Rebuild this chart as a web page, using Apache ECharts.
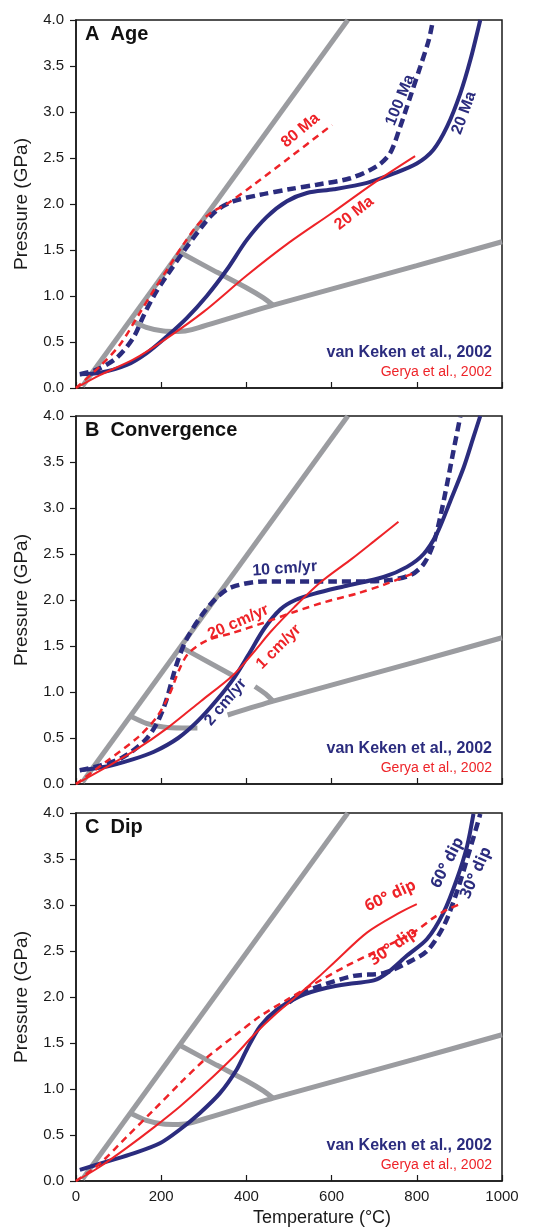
<!DOCTYPE html>
<html>
<head>
<meta charset="utf-8">
<script src="https://cdn.jsdelivr.net/npm/echarts@6/dist/echarts.min.js"></script>
<style>
  html, body { margin: 0; padding: 0; background: #fff; }
  #chart { width: 550px; height: 1228px; }
</style>
</head>
<body>
<div id="chart"></div>
<script>
// all points are [temperature °C, pressure GPa]
const xTicks = [0, 200, 400, 600, 800, 1000];
const yTicks = [0, 0.5, 1, 1.5, 2, 2.5, 3, 3.5, 4];

// gray facies boundaries
const grayUpper = [[15, 0.02], [638, 4.0]];
const grayLower = [[127, 0.74], [165, 0.66], [205, 0.62], [240, 0.615], [272, 0.635], [463, 0.9], [800, 1.33], [1000, 1.59]];
const grayMid = [[246, 1.47], [330, 1.26], [400, 1.09], [440, 0.98], [463, 0.9]];
// panel B has the boundaries cut where the "2 cm/yr" label sits
const grayLowerB1 = [[127, 0.74], [165, 0.66], [205, 0.62], [250, 0.61], [285, 0.61]];
const grayLowerB2 = [[356, 0.75], [463, 0.9], [800, 1.33], [1000, 1.59]];
const grayMidB1 = [[250, 1.48], [368, 1.18]];
const grayMidB2 = [[420, 1.06], [445, 0.98], [463, 0.9]];

// A  Age
const ageVk20 = [[9, 0.15], [56, 0.165], [119, 0.25], [166, 0.38], [213, 0.56], [260, 0.76], [307, 1.0], [354, 1.285], [401, 1.61], [448, 1.86], [495, 2.03], [542, 2.12], [605, 2.16], [683, 2.23], [745, 2.33], [800, 2.44], [839, 2.59], [871, 2.84], [902, 3.2], [926, 3.57], [949, 4.0]];
const ageVk100 = [[9, 0.15], [49, 0.2], [96, 0.33], [135, 0.55], [160, 0.8], [185, 1.02], [210, 1.2], [255, 1.5], [300, 1.78], [330, 1.93], [370, 2.03], [432, 2.1], [500, 2.16], [565, 2.21], [644, 2.28], [706, 2.41], [737, 2.55], [761, 2.84], [785, 3.17], [808, 3.49], [828, 3.78], [836, 3.95]];
const ageGe20 = [[0, 0], [56, 0.14], [135, 0.31], [213, 0.54], [300, 0.83], [400, 1.22], [500, 1.58], [600, 1.9], [700, 2.23], [796, 2.52]];
const ageGe80 = [[0, 0], [56, 0.235], [103, 0.47], [145, 0.78], [185, 1.08], [220, 1.33], [255, 1.58], [285, 1.77], [315, 1.9], [354, 2.0], [420, 2.22], [500, 2.5], [601, 2.86]];

// B  Convergence
const convVk2 = [[9, 0.15], [72, 0.19], [135, 0.27], [183, 0.35], [240, 0.5], [285, 0.68], [330, 0.91], [372, 1.16], [403, 1.39], [442, 1.69], [480, 1.9], [515, 2.0], [560, 2.07], [630, 2.15], [722, 2.25], [777, 2.36], [816, 2.5], [847, 2.72], [879, 3.08], [910, 3.44], [933, 3.77], [949, 4.0]];
const convVk10 = [[9, 0.15], [56, 0.2], [110, 0.29], [161, 0.47], [190, 0.66], [212, 0.91], [234, 1.27], [258, 1.56], [293, 1.82], [329, 2.02], [366, 2.14], [440, 2.2], [605, 2.2], [722, 2.21], [785, 2.27], [816, 2.39], [839, 2.61], [855, 2.9], [871, 3.26], [886, 3.62], [902, 3.99]];
const convGe1 = [[0, 0], [66, 0.17], [140, 0.37], [215, 0.61], [293, 0.9], [368, 1.18], [413, 1.41], [458, 1.66], [512, 1.92], [576, 2.2], [648, 2.45], [700, 2.64], [757, 2.85]];
const convGe20 = [[0, 0], [73, 0.25], [146, 0.51], [190, 0.73], [220, 0.98], [242, 1.24], [264, 1.42], [307, 1.56], [366, 1.64], [439, 1.75], [512, 1.87], [586, 1.98], [659, 2.07], [725, 2.17], [792, 2.29]];

// C  Dip
const dipVk60 = [[9, 0.12], [72, 0.21], [135, 0.3], [197, 0.41], [244, 0.56], [291, 0.74], [338, 0.955], [377, 1.21], [401, 1.43], [432, 1.68], [471, 1.86], [526, 2.01], [589, 2.1], [652, 2.15], [699, 2.18], [730, 2.26], [777, 2.45], [824, 2.63], [863, 2.92], [894, 3.28], [918, 3.64], [933, 3.99]];
const dipVk30 = [[500, 1.94], [526, 2.03], [573, 2.12], [652, 2.23], [722, 2.26], [777, 2.37], [824, 2.5], [863, 2.77], [894, 3.14], [918, 3.5], [941, 3.86], [949, 3.99]];
const dipGe60 = [[0, 0], [56, 0.155], [119, 0.36], [182, 0.58], [244, 0.81], [307, 1.07], [370, 1.35], [420, 1.6], [470, 1.82], [526, 2.04], [570, 2.22], [605, 2.37], [683, 2.7], [761, 2.92], [800, 3.01]];
const dipGe30 = [[0, 0], [56, 0.19], [119, 0.48], [182, 0.77], [244, 1.06], [307, 1.34], [370, 1.57], [432, 1.79], [495, 1.97], [558, 2.14], [636, 2.34], [714, 2.52], [792, 2.7], [839, 2.86], [871, 2.95], [902, 3.01]];

// curve labels: [T, P, text, angle]
const ageLabelsVk = [[761, 3.13, '100 Ma', 68], [911, 2.99, '20 Ma', 70]];
const ageLabelsGe = [[527, 2.8, '80 Ma', 40], [653, 1.9, '20 Ma', 38]];
const convLabelsVk = [[490, 2.34, '10 cm/yr', 4], [351, 0.89, '2 cm/yr', 50]];
const convLabelsGe = [[381, 1.76, '20 cm/yr', 24], [476, 1.49, '1 cm/yr', 45]];
const dipLabelsVk = [[872, 3.46, '60° dip', 63], [939, 3.35, '30° dip', 66]];
const dipLabelsGe = [[738, 3.1, '60° dip', 25], [745, 2.55, '30° dip', 35]];

const panelTitles = ['A  Age', 'B  Convergence', 'C  Dip'];
const citeVk = 'van Keken et al., 2002';
const citeGe = 'Gerya et al., 2002';

const NAVY = '#2b2c7e';
const RED = '#ee2328';
const GRAY = '#9b9ca0';
const ARIAL = '"Liberation Sans", Arial, sans-serif';

const gridTop = [20, 416, 813];
const gridH = 368;
const gridLeft = 76;
const gridRight = 48;
const plotRight = 550 - gridRight;

const chart = echarts.init(document.getElementById('chart'));

function grayLine(data, g) {
  return {
    type: 'line', xAxisIndex: g, yAxisIndex: g, data: data,
    showSymbol: false, smooth: 0.2, z: 2,
    lineStyle: { color: GRAY, width: 5 }
  };
}

function curve(data, g, color, width, dashed) {
  return {
    type: 'line', xAxisIndex: g, yAxisIndex: g, data: data,
    showSymbol: false, smooth: 0.3, z: color === RED ? 4 : 3,
    lineStyle: { color: color, width: width, type: dashed ? dashed : 'solid' }
  };
}

function labels(list, g, color, font, size) {
  return {
    type: 'scatter', xAxisIndex: g, yAxisIndex: g, symbolSize: 0, z: 6,
    itemStyle: { opacity: 1 },
    data: list.map(l => ({
      value: [l[0], l[1]],
      label: {
        show: true, position: 'inside', formatter: l[2], rotate: l[3],
        color: color, fontFamily: font, fontWeight: 'bold', fontSize: size, opacity: 1,
        align: 'center', verticalAlign: 'middle'
      }
    })),
    silent: true
  };
}

const grids = [], xAxes = [], yAxes = [];
for (let g = 0; g < 3; g++) {
  grids.push({
    left: gridLeft, right: gridRight, top: gridTop[g], height: gridH,
    show: true, borderColor: '#1a1a1a', borderWidth: 1.5, backgroundColor: '#fff'
  });
  xAxes.push({
    gridIndex: g, type: 'value', min: xTicks[0], max: xTicks[xTicks.length - 1], interval: 200,
    axisLine: { show: true, onZero: false, lineStyle: { color: '#1a1a1a', width: 1.5 } },
    axisTick: { show: true, inside: true, length: 6, lineStyle: { color: '#1a1a1a', width: 1.2 } },
    axisLabel: { show: g === 2, fontSize: 15, color: '#1a1a1a', fontFamily: ARIAL, margin: 8, formatter: v => String(v) },
    splitLine: { show: false }
  });
  yAxes.push({
    gridIndex: g, type: 'value', min: yTicks[0], max: yTicks[yTicks.length - 1], interval: 0.5,
    axisLine: { show: true, onZero: false, lineStyle: { color: '#1a1a1a', width: 1.5 } },
    axisTick: { show: true, inside: false, length: 6, lineStyle: { color: '#1a1a1a', width: 1.2 } },
    axisLabel: { fontSize: 15, color: '#1a1a1a', fontFamily: ARIAL, margin: 12, formatter: v => v.toFixed(1) },
    splitLine: { show: false },
    name: 'Pressure (GPa)', nameLocation: 'middle', nameGap: 45, nameRotate: 90,
    nameTextStyle: { fontSize: 19, color: '#1a1a1a', fontFamily: ARIAL }
  });
}

const series = [
  // A
  grayLine(grayUpper, 0), grayLine(grayLower, 0), grayLine(grayMid, 0),
  curve(ageVk20, 0, NAVY, 4), curve(ageVk100, 0, NAVY, 4.5, [9, 5]),
  curve(ageGe20, 0, RED, 2), curve(ageGe80, 0, RED, 2.5, [7, 5]),
  labels(ageLabelsVk, 0, NAVY, ARIAL, 16), labels(ageLabelsGe, 0, RED, ARIAL, 16),
  // B
  grayLine(grayUpper, 1), grayLine(grayLowerB1, 1), grayLine(grayLowerB2, 1),
  grayLine(grayMidB1, 1), grayLine(grayMidB2, 1),
  curve(convVk2, 1, NAVY, 4), curve(convVk10, 1, NAVY, 4.5, [9, 5]),
  curve(convGe1, 1, RED, 2), curve(convGe20, 1, RED, 2.5, [7, 5]),
  labels(convLabelsVk, 1, NAVY, ARIAL, 16), labels(convLabelsGe, 1, RED, ARIAL, 16),
  // C
  grayLine(grayUpper, 2), grayLine(grayLower, 2), grayLine(grayMid, 2),
  curve(dipVk60, 2, NAVY, 4), curve(dipVk30, 2, NAVY, 4.5, [9, 5]),
  curve(dipGe60, 2, RED, 2), curve(dipGe30, 2, RED, 2.5, [7, 5]),
  labels(dipLabelsVk, 2, NAVY, '"Open Sans", sans-serif', 16),
  labels(dipLabelsGe, 2, RED, '"Open Sans", sans-serif', 16)
];

const graphic = [];
for (let g = 0; g < 3; g++) {
  const bottom = gridTop[g] + gridH;
  graphic.push({
    type: 'text', x: gridLeft + 9, y: gridTop[g] + 4, z: 10,
    style: { text: panelTitles[g], font: 'bold 20px ' + ARIAL, fill: '#111' }
  });
  graphic.push({
    type: 'text', x: plotRight - 10, y: bottom - 35, z: 10,
    style: { text: citeVk, font: 'bold 16px ' + ARIAL, fill: NAVY, align: 'right', verticalAlign: 'middle' }
  });
  graphic.push({
    type: 'text', x: plotRight - 10, y: bottom - 16, z: 10,
    style: { text: citeGe, font: '14px ' + ARIAL, fill: RED, align: 'right', verticalAlign: 'middle' }
  });
}
graphic.push({
  type: 'text', x: 322, y: 1218, z: 10,
  style: { text: 'Temperature (°C)', font: '18px ' + ARIAL, fill: '#1a1a1a', align: 'center', verticalAlign: 'middle' }
});

chart.setOption({
  animation: false,
  backgroundColor: '#fff',
  grid: grids,
  xAxis: xAxes,
  yAxis: yAxes,
  series: series,
  graphic: graphic
});
</script>
</body>
</html>
